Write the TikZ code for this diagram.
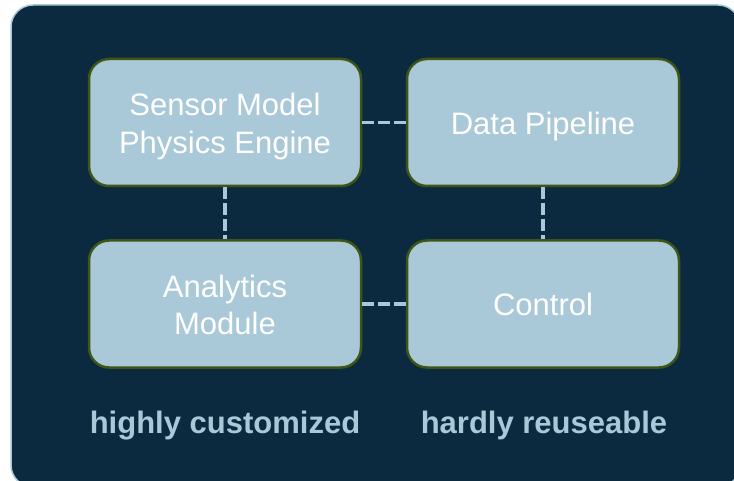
\documentclass[tikz,border=0pt]{standalone}
\usepackage{fontspec}
\setmainfont{Liberation Sans}
\definecolor{bgdark}{HTML}{0B2A3F}
\definecolor{boxfill}{HTML}{A9C8D8}
\definecolor{boxedge}{HTML}{3F5516}
\definecolor{lightblue}{HTML}{A9C8D8}
\tikzset{
  module/.style={draw=boxedge, line width=2.5pt, fill=boxfill, rounded corners=20pt,
    minimum width=272pt, minimum height=127pt, inner sep=0pt, align=center,
    text=white, font=\fontsize{31}{37.5}\selectfont},
  oneline/.style={module, text height=23.6pt, text depth=0pt},
  twoline/.style={module, text height=61.1pt, text depth=0pt},
  link/.style={draw=lightblue, line width=3.5pt, dash pattern=on 12pt off 4pt},
  caption/.style={text=lightblue, font=\fontsize{31}{37}\selectfont\bfseries, anchor=base, inner sep=0pt}
}
\begin{document}
\begin{tikzpicture}[x=1pt,y=-1pt]
\useasboundingbox (0,0) rectangle (734,481);
\draw[fill=bgdark, draw=lightblue, line width=1.5pt, rounded corners=22pt] (11,5) rectangle (740,487);
\node[twoline] (sensor) at (225,122.5) {Sensor Model\\Physics Engine};
\node[oneline] (data) at (543,122.5) {Data Pipeline};
\node[twoline] (analytics) at (225,304) {Analytics\\Module};
\node[oneline] (control) at (543,304) {Control};
\draw[link] (sensor.east) -- (data.west);
\draw[link] (analytics.east) -- (control.west);
\draw[link] (sensor.south) -- (analytics.north);
\draw[link] (data.south) -- (control.north);
\node[caption] (custom) at (225,433) {highly customized};
\node[caption] (reuse) at (544,433) {hardly reuseable};
\end{tikzpicture}
\end{document}
